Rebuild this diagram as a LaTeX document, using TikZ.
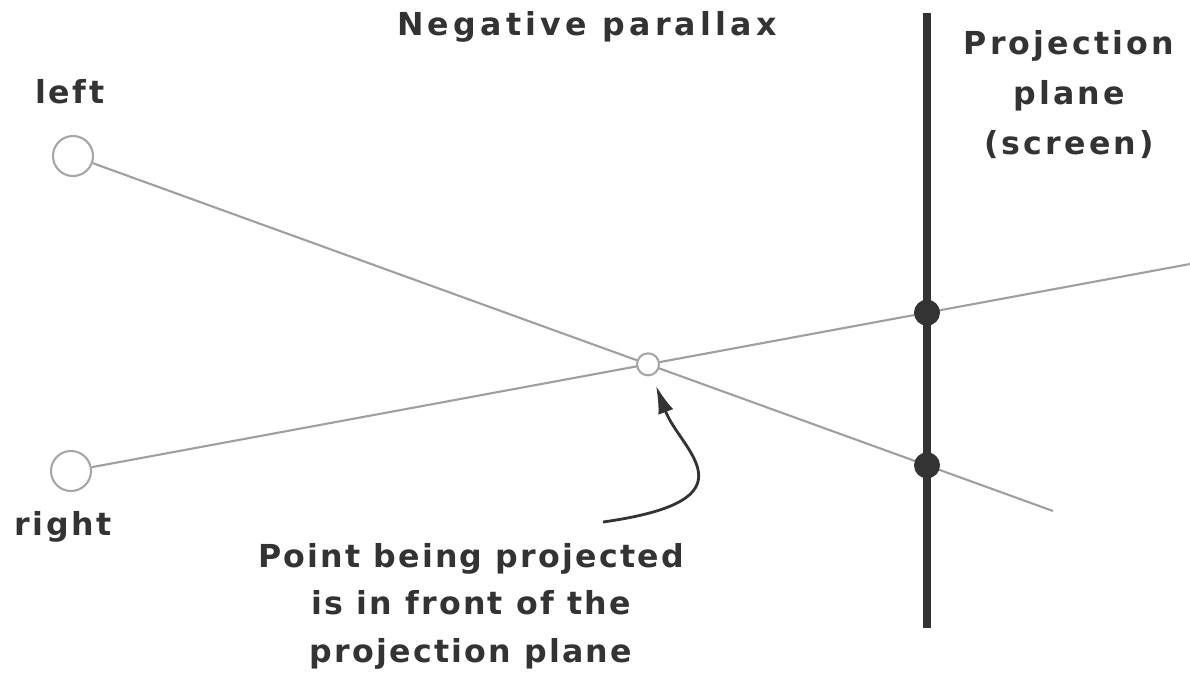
\documentclass[tikz,border=0pt]{standalone}
\usepackage{fontspec}
\setmainfont{DejaVu Sans}
\usetikzlibrary{arrows.meta,backgrounds}
\definecolor{ink}{gray}{0.2}
\tikzset{
  label text/.style={font=\bfseries\fontsize{9}{13.4}\selectfont\addfontfeatures{LetterSpace=8},
    text=ink, align=center, inner sep=0pt},
  eye/.style={circle, draw=gray!70, line width=0.6pt, fill=white, minimum size=0.4cm, inner sep=0pt},
  ray/.style={draw=gray!75, line width=0.6pt},
  hit/.style={circle, fill=ink, minimum size=0.26cm, inner sep=0pt},
}

\begin{document}
\begin{tikzpicture}[x=0.01cm, y=-0.01cm]
  \useasboundingbox (0,0) rectangle (1190,681);

  % eyes and the far ends of the rays
  \node[eye] (leye) at (73,156) {};
  \node[eye] (reye) at (71,471) {};
  \coordinate (lend) at (1053,511);
  \coordinate (rend) at (1190,264);

  % projection plane
  \coordinate (ptop) at (927,13);
  \coordinate (pbot) at (927,628);
  \draw[ink, line width=2pt] (ptop) -- (pbot);

  % projected point and its images on the screen
  \node[eye, minimum size=0.22cm] (pt) at (intersection of leye--lend and reye--rend) {};
  \node[hit] (lhit) at (intersection of leye--lend and ptop--pbot) {};
  \node[hit] (rhit) at (intersection of reye--rend and ptop--pbot) {};

  \begin{scope}[on background layer]
    \draw[ray] (leye) -- (lend);
    \draw[ray] (reye) -- (rend);
  \end{scope}

  % labels (base = baseline of the last line)
  \node[label text, anchor=base, font=\bfseries\fontsize{9}{13.4}\selectfont\addfontfeatures{LetterSpace=13.5}] (title) at (587,35) {Negative parallax};
  \node[label text, anchor=base, font=\bfseries\fontsize{9}{14.2}\selectfont\addfontfeatures{LetterSpace=10}] (plane) at (1069,154) {Projection\\plane\\(screen)};
  \node[label text, anchor=base] (lname) at (70,103) {left};
  \node[label text, anchor=base] (rname) at (63,535) {right};
  \node[label text, anchor=base, font=\bfseries\fontsize{9}{13.4}\selectfont\addfontfeatures{LetterSpace=7}] (note) at (471,662) {Point being projected\\is in front of the\\projection plane};

  % pointer to the projected point
  \coordinate (tail) at (603,522);
  \draw[ink, line width=0.8pt, -{Latex[length=8pt,width=4.5pt]}, shorten >=3pt]
    (tail) .. controls (760,500) and (680,450) .. (pt);
\end{tikzpicture}
\end{document}
